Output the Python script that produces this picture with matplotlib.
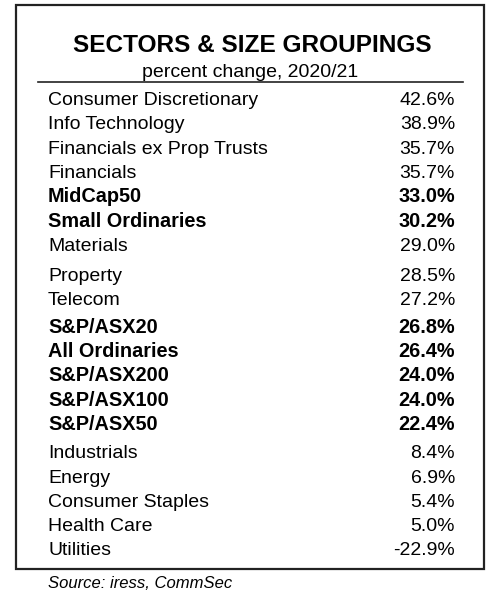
import matplotlib.pyplot as plt
from matplotlib.patches import Rectangle

# données du tableau
names = ['Consumer Discretionary', 'Info Technology', 'Financials ex Prop Trusts',
         'Financials', 'MidCap50', 'Small Ordinaries', 'Materials', 'Property',
         'Telecom', 'S&P/ASX20', 'All Ordinaries', 'S&P/ASX200', 'S&P/ASX100',
         'S&P/ASX50', 'Industrials', 'Energy', 'Consumer Staples', 'Health Care',
         'Utilities']
changes = [42.6, 38.9, 35.7, 35.7, 33.0, 30.2, 29.0, 28.5, 27.2, 26.8, 26.4,
           24.0, 24.0, 22.4, 8.4, 6.9, 5.4, 5.0, -22.9]
bold_rows = ['MidCap50', 'Small Ordinaries', 'S&P/ASX20', 'All Ordinaries',
             'S&P/ASX200', 'S&P/ASX100', 'S&P/ASX50']
# groupes visuels (petits espaces entre eux)
groups = [0, 0, 0, 0, 0, 0, 0, 1, 1, 2, 2, 2, 2, 2, 3, 3, 3, 3, 3]

title = 'SECTORS & SIZE GROUPINGS'
subtitle = 'percent change, 2020/21'
source = 'Source: iress, CommSec'

plt.rcParams['font.family'] = ['Liberation Sans', 'DejaVu Sans']

W, H = 500, 595
fig = plt.figure(figsize=(W / 100, H / 100), dpi=100)
ax = fig.add_axes([0, 0, 1, 1])
ax.set_xlim(0, W)
ax.set_ylim(H, 0)
ax.axis('off')

# cadre
ax.add_patch(Rectangle((16, 5), 468, 564, fill=False, edgecolor='#222222', lw=1.6))

ax.text(252, 52, title, ha='center', va='baseline', fontsize=17.6, fontweight='bold')
ax.text(250, 77, subtitle, ha='center', va='baseline', fontsize=14)
ax.plot([38, 463], [82, 82], color='#222222', lw=1.2)

# lignes du tableau
step = 24.3
extra = {1: 6, 2: 3, 3: 4}
y = 105
prev = groups[0]
for name, val, g in zip(names, changes, groups):
    if g != prev:
        y += extra[g]
        prev = g
    is_bold = name in bold_rows
    weight = 'bold' if is_bold else 'normal'
    fs = 14.3 if is_bold else 14
    ax.text(48, y, name, ha='left', va='baseline', fontsize=fs, fontweight=weight)
    ax.text(455, y, f'{val:.1f}%', ha='right', va='baseline', fontsize=fs, fontweight=weight)
    y += step

ax.text(48, 588, source, ha='left', va='baseline', fontsize=12, style='italic')

fig.savefig('out.png', dpi=100, facecolor='white')
